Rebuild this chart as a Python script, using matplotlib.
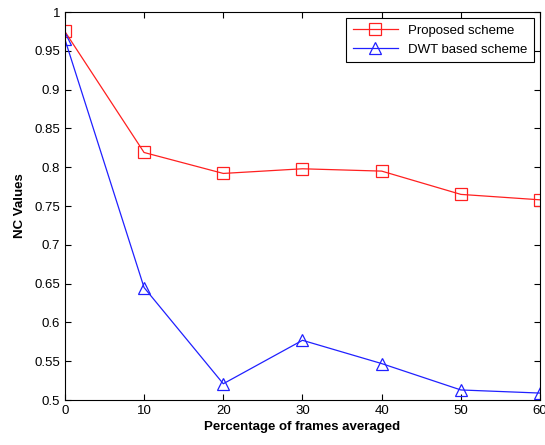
import matplotlib
matplotlib.use('Agg')
import matplotlib.pyplot as plt

plt.rcParams['font.family'] = ['Liberation Sans', 'DejaVu Sans']

frames = [0, 10, 20, 30, 40, 50, 60]
proposed = [0.975, 0.819, 0.792, 0.798, 0.795, 0.765, 0.758]
dwt = [0.965, 0.645, 0.521, 0.577, 0.547, 0.513, 0.509]

fig = plt.figure(figsize=(5.45, 4.45), dpi=100)
ax = fig.add_axes([0.119, 0.101, 0.872, 0.872])

ax.plot(frames, proposed, '-s', color='#ff2020', lw=0.9, ms=8.5, mfc='none', mew=0.9,
        label='Proposed scheme')
ax.plot(frames, dwt, '-^', color='#2020ff', lw=0.9, ms=8.5, mfc='none', mew=0.9,
        label='DWT based scheme')

ax.set_xlim(0, 60)
ax.set_ylim(0.5, 1)
ax.set_xticks(frames)
ax.set_yticks([0.5, 0.55, 0.6, 0.65, 0.7, 0.75, 0.8, 0.85, 0.9, 0.95, 1])
ax.set_yticklabels(['0.5', '0.55', '0.6', '0.65', '0.7', '0.75', '0.8', '0.85', '0.9', '0.95', '1'])
ax.tick_params(direction='in', top=True, right=True, labelsize=9.5, length=4, width=0.8)
for s in ax.spines.values():
    s.set_linewidth(0.8)

ax.set_xlabel('Percentage of frames averaged', fontsize=9.5, fontweight='bold', labelpad=3)
ax.set_ylabel('NC Values', fontsize=9.5, fontweight='bold', labelpad=6)

leg = ax.legend(loc='upper right', fontsize=9.5, fancybox=False, edgecolor='black',
                borderaxespad=0.45, handlelength=3.4, borderpad=0.5, framealpha=1)
leg.get_frame().set_linewidth(0.8)

fig.savefig('out.png', dpi=100)
